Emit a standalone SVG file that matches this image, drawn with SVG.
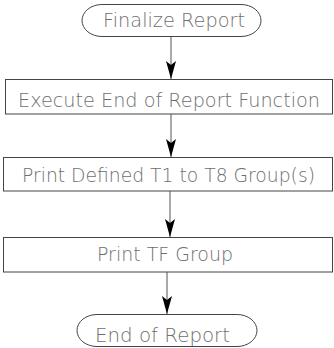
<svg xmlns="http://www.w3.org/2000/svg" width="334" height="348" viewBox="0 0 334 348">
  <style>
    .shape { fill: #ffffff; stroke: #444444; stroke-width: 1; }
    .label { font-family: "DejaVu Sans", "Liberation Sans", sans-serif; font-weight: 200; font-size: 20px; fill: #6e6e6e; text-anchor: middle; }
    .wire { stroke: #555555; stroke-width: 1; fill: none; marker-end: url(#head); }
  </style>
  <defs>
    <!-- slim filled arrowhead, drawn along +x so orient="auto" follows the line -->
    <marker id="head" markerUnits="userSpaceOnUse" markerWidth="18" markerHeight="10" refX="18" refY="5" orient="auto" viewBox="0 0 18 10">
      <path d="M0,0 L4,5 L0,10 L18,5 Z" fill="#000000"/>
    </marker>
  </defs>

  <!-- connectors -->
  <g id="connectors">
    <path class="wire" d="M171,36.5 V79"/>
    <path class="wire" d="M171,114 V157"/>
    <path class="wire" d="M170,191 V237"/>
    <path class="wire" d="M167,272 V314"/>
  </g>

  <g id="start">
    <path class="shape" d="M102,4.5 H241 A20,16 0 0 1 241,36.5 H102 A20,16 0 0 1 102,4.5 Z"/>
    <text class="label" x="174" y="27" textLength="142" lengthAdjust="spacingAndGlyphs">Finalize Report</text>
  </g>

  <g id="execute">
    <rect class="shape" x="5.5" y="79.5" width="327" height="34.5"/>
    <text class="label" x="169" y="107" textLength="302" lengthAdjust="spacingAndGlyphs">Execute End of Report Function</text>
  </g>

  <g id="print-groups">
    <rect class="shape" x="3.5" y="157.5" width="329" height="33.5"/>
    <text class="label" x="168.5" y="182" textLength="293" lengthAdjust="spacingAndGlyphs">Print Defined T1 to T8 Group(s)</text>
  </g>

  <g id="print-tf">
    <rect class="shape" x="3.5" y="237.5" width="329" height="34.5"/>
    <text class="label" x="165" y="261" textLength="136" lengthAdjust="spacingAndGlyphs">Print TF Group</text>
  </g>

  <g id="end">
    <path class="shape" d="M97,314.5 H237 A20,16 0 0 1 237,346.5 H97 A20,16 0 0 1 97,314.5 Z"/>
    <text class="label" x="162.5" y="342" textLength="135" lengthAdjust="spacingAndGlyphs">End of Report</text>
  </g>
</svg>
